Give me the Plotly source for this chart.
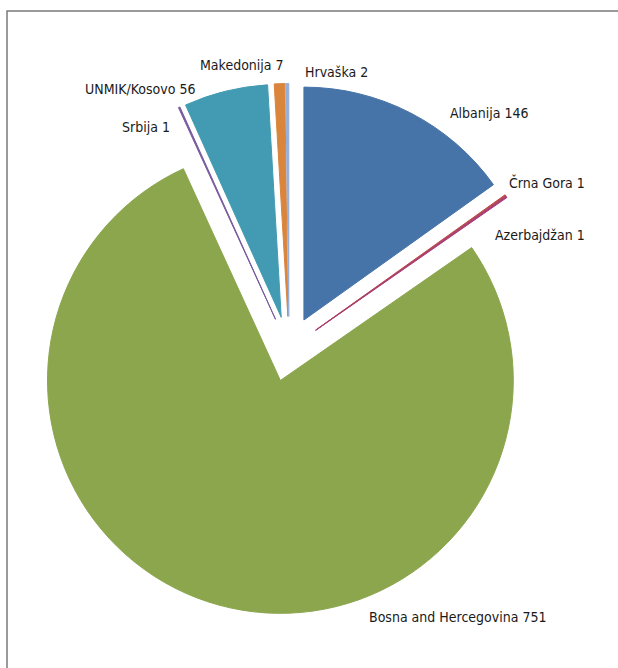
import plotly.graph_objects as go

countries = ["Albanija", "Črna Gora", "Azerbajdžan", "Bosna and Hercegovina",
             "Srbija", "UNMIK/Kosovo", "Makedonija", "Hrvaška"]
values = [146, 1, 1, 751, 1, 56, 7, 2]
colors = ["#4674A9", "#BC4A47", "#A83D77", "#8BA64D",
          "#775A9E", "#429BB2", "#DA853C", "#95AFD8"]

# label placement (left x px, center y px) in the 618x668 window
label_pos = [(448, 113), (507, 182), (493, 235), (367, 617),
             (120, 127), (83, 89), (198, 65), (303, 72)]

W, H = 618, 668
FONT = "DejaVu Sans Condensed, Liberation Sans Narrow, sans-serif"

fig = go.Figure(go.Pie(
    labels=countries,
    values=values,
    sort=False,
    direction="clockwise",
    rotation=0,
    pull=[0.14] * len(values),
    marker=dict(colors=colors, line=dict(color=colors, width=1)),
    textinfo="none",
    domain=dict(x=[23.5 / W, 554.5 / W], y=[1 - 614.5 / H, 1 - 83.5 / H]),
    showlegend=False,
))

annotations = []
for name, val, (px, py) in zip(countries, values, label_pos):
    annotations.append(dict(
        text=f"{name} {val}", x=px / W, y=1 - py / H, xref="paper", yref="paper",
        xanchor="left", yanchor="middle", showarrow=False,
        font=dict(family=FONT, size=14, color="#1a1a1a"),
    ))

fig.update_layout(
    width=W, height=H,
    margin=dict(l=0, r=0, t=0, b=0),
    paper_bgcolor="white",
    plot_bgcolor="white",
    annotations=annotations,
    shapes=[dict(type="rect", xref="paper", yref="paper",
                 x0=7 / W, x1=1.2, y0=-0.2, y1=1 - 11 / H,
                 line=dict(color="#7a7a7a", width=1.5))],
)

fig.write_html(
    "out.html",
    config={"displayModeBar": False},
    post_script="document.body.style.margin='0';document.body.style.overflow='hidden';",
)
